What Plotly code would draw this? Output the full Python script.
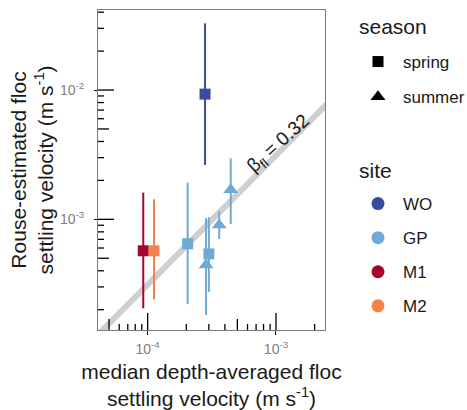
import numpy as np
import plotly.graph_objects as go

# ---------------- data ----------------
site = ["WO", "GP", "GP", "GP", "GP", "GP", "M1", "M2"]
season = ["spring", "spring", "spring", "summer", "summer", "summer", "spring", "spring"]
ws_median = [2.80e-4, 2.05e-4, 3.00e-4, 2.85e-4, 3.61e-4, 4.44e-4, 9.24e-5, 1.12e-4]
ws_rouse = [9.3e-3, 6.47e-4, 5.4e-4, 4.44e-4, 9.03e-4, 1.69e-3, 5.71e-4, 5.71e-4]
ws_rouse_hi = [3.28e-2, 1.92e-3, 1.04e-3, 1.02e-3, 1.15e-3, 2.96e-3, 1.61e-3, 1.43e-3]
ws_rouse_lo = [2.63e-3, 2.21e-4, 2.75e-4, 1.82e-4, 7.05e-4, 9.20e-4, 2.05e-4, 2.40e-4]

site_order = ["WO", "GP", "M1", "M2"]
site_colors = {"WO": "#3a4b9f", "GP": "#6eaad5", "M1": "#a6052f", "M2": "#f5824a"}
season_order = ["spring", "summer"]
season_symbols = {"spring": "square", "summer": "triangle-up"}
season_sizes = {"spring": 11, "summer": 13}

beta_fl = 0.32
x_range_log = [-4.387, -2.618]
y_range_log = [-3.856, -1.381]

x_major = [1e-4, 1e-3]
x_major_text = ["10<sup>-4</sup>", "10<sup>-3</sup>"]
y_major = [1e-3, 1e-2]
y_major_text = ["10<sup>-3</sup>", "10<sup>-2</sup>"]


def minor_vals(lo, hi):
    out = []
    for e in range(int(np.floor(lo)), int(np.ceil(hi)) + 1):
        for m in range(2, 10):
            v = m * 10.0 ** e
            if lo <= np.log10(v) <= hi and m != 5:
                out.append(v)
    return out


def mid_vals(lo, hi):
    return [5 * 10.0 ** e for e in range(int(np.floor(lo)), int(np.ceil(hi)) + 1)
            if lo <= np.log10(5 * 10.0 ** e) <= hi]


FONT = "Liberation Sans, Arial, Helvetica, sans-serif"
TXT = "#1a1a1a"
TICKLAB = "#808080"
BORDER = "#7a7a7a"

W, H = 467, 410
ML, MR, MT, MB = 98, 142, 10, 80
PW, PH = W - ML - MR, H - MT - MB

fig = go.Figure()

# reference line: rouse = median / beta
line_x = np.array([10 ** (x_range_log[0] - 0.3), 10 ** (x_range_log[1] + 0.3)])
fig.add_trace(go.Scatter(x=line_x, y=line_x / beta_fl, mode="lines",
                         line=dict(color="#cfcfcf", width=6),
                         showlegend=False, hoverinfo="skip"))

# data points with error bars
for i in range(len(site)):
    c = site_colors[site[i]]
    fig.add_trace(go.Scatter(
        x=[ws_median[i]], y=[ws_rouse[i]], mode="markers",
        marker=dict(symbol=season_symbols[season[i]], size=season_sizes[season[i]],
                    color=c, line=dict(width=0)),
        error_y=dict(type="data", symmetric=False,
                     array=[ws_rouse_hi[i] - ws_rouse[i]],
                     arrayminus=[ws_rouse[i] - ws_rouse_lo[i]],
                     color=c, thickness=2, width=0),
        showlegend=False, hoverinfo="skip"))

# legend entries: season
for s in season_order:
    fig.add_trace(go.Scatter(
        x=[None], y=[None], mode="markers", name=s, legend="legend",
        legendgroup="season_" + s,
        marker=dict(symbol=season_symbols[s], size=season_sizes[s], color="black")))
# legend entries: site
for s in site_order:
    fig.add_trace(go.Scatter(
        x=[None], y=[None], mode="markers", name=s, legend="legend2",
        legendgroup="site_" + s,
        marker=dict(symbol="circle", size=13, color=site_colors[s])))

# empty traces to activate overlay axes
for xa, ya in [("x2", "y"), ("x", "y2")]:
    fig.add_trace(go.Scatter(x=[None], y=[None], xaxis=xa, yaxis=ya,
                             showlegend=False, hoverinfo="skip"))

fig.add_annotation(x=-2.975, y=-2.42, xref="x", yref="y",
                   text="β<sub>fl</sub> = 0.32", showarrow=False, textangle=-42,
                   font=dict(family=FONT, size=19, color=TXT))


def px_x(p):
    return (p - ML) / PW


def px_y(p):
    return 1 - (p - MT) / PH


# log-tick marks inside the panel (bottom and left); shape positions on log
# axes are given in data units
TICK = dict(color="black", width=1.3)
for vals, ln in [(x_major, 17), (mid_vals(*x_range_log), 11), (minor_vals(*x_range_log), 6)]:
    for v in vals:
        fig.add_shape(type="line", xref="x", yref="paper", x0=v, x1=v,
                      y0=0, y1=ln / PH, line=TICK, layer="above")
for vals, ln in [(y_major, 16), (mid_vals(*y_range_log), 11), (minor_vals(*y_range_log), 6)]:
    for v in vals:
        fig.add_shape(type="line", xref="paper", yref="y", x0=0, x1=ln / PW,
                      y0=v, y1=v, line=TICK, layer="above")

# legend titles
fig.add_annotation(x=px_x(357), y=px_y(27), xref="paper", yref="paper", text="season",
                   showarrow=False, xanchor="left", yanchor="middle",
                   font=dict(family=FONT, size=21, color=TXT))
fig.add_annotation(x=px_x(357), y=px_y(170), xref="paper", yref="paper", text="site",
                   showarrow=False, xanchor="left", yanchor="middle",
                   font=dict(family=FONT, size=21, color=TXT))

common = dict(type="log", showgrid=False, zeroline=False)

fig.update_layout(
    width=W, height=H,
    margin=dict(l=ML, r=MR, t=MT, b=MB, autoexpand=False),
    plot_bgcolor="white", paper_bgcolor="white",
    font=dict(family=FONT, color=TXT),
    xaxis=dict(**common, range=x_range_log, tickmode="array", tickvals=x_major,
               showticklabels=False, ticks="", showline=True, mirror=True,
               linecolor=BORDER, linewidth=1),
    yaxis=dict(**common, range=y_range_log, tickmode="array", tickvals=y_major,
               showticklabels=False, ticks="", showline=True, mirror=True,
               linecolor=BORDER, linewidth=1),
    xaxis2=dict(**common, range=x_range_log, overlaying="x", anchor="y", side="bottom",
                tickmode="array", tickvals=x_major, ticktext=x_major_text,
                ticks="outside", ticklen=4, tickwidth=1.3, tickcolor="black", showline=False,
                ticklabelstandoff=2,
                tickfont=dict(size=14, color=TICKLAB),
                title=dict(text="median depth-averaged floc<br>settling velocity (m s<sup>-1</sup>)",
                           font=dict(size=21, color=TXT), standoff=10)),
    yaxis2=dict(**common, range=y_range_log, overlaying="y", anchor="x", side="left",
                tickmode="array", tickvals=y_major, ticktext=y_major_text,
                ticks="outside", ticklen=3, tickwidth=1.3, tickcolor="black", showline=False,
                ticklabelstandoff=7,
                tickfont=dict(size=14, color=TICKLAB),
                title=dict(text="Rouse-estimated floc<br>settling velocity (m s<sup>-1</sup>)",
                           font=dict(size=21, color=TXT), standoff=0)),
    legend=dict(x=px_x(353), y=px_y(44), xanchor="left", yanchor="top",
                font=dict(size=17, color=TXT), tracegroupgap=10, itemsizing="trace",
                itemwidth=40, bgcolor="rgba(0,0,0,0)"),
    legend2=dict(x=px_x(353), y=px_y(186), xanchor="left", yanchor="top",
                 font=dict(size=17, color=TXT), tracegroupgap=9, itemsizing="trace",
                 itemwidth=40, bgcolor="rgba(0,0,0,0)"),
)

fig.write_html("out.html")
